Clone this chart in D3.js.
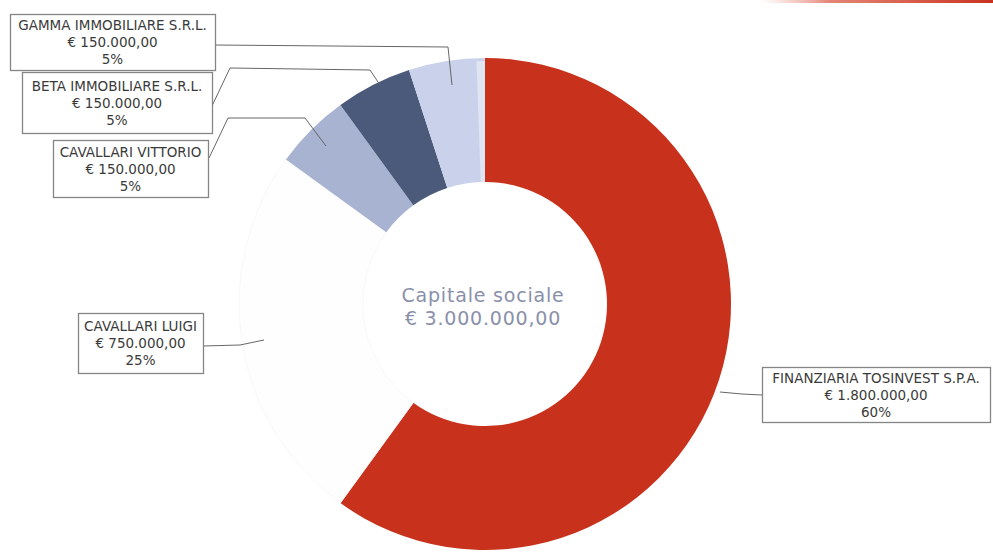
<!DOCTYPE html>
<html>
<head>
<meta charset="utf-8">
<script src="https://cdn.jsdelivr.net/npm/d3@7"></script>
<style>
  html, body { margin: 0; padding: 0; background: #ffffff; }
  svg { display: block; }
  text { font-family: "DejaVu Sans", sans-serif; }
</style>
</head>
<body>
<svg id="chart" width="993" height="552"></svg>
<script>
// ---- data ----
const shareholders = ["FINANZIARIA TOSINVEST S.P.A.", "CAVALLARI LUIGI", "CAVALLARI VITTORIO", "BETA IMMOBILIARE S.R.L.", "GAMMA IMMOBILIARE S.R.L."];
const amounts = [1800000, 750000, 150000, 150000, 150000];
const amountLabels = ["€ 1.800.000,00", "€ 750.000,00", "€ 150.000,00", "€ 150.000,00", "€ 150.000,00"];
const percentLabels = ["60%", "25%", "5%", "5%", "5%"];
const sliceColors = ["#c8321d", "#fefefe", "#a7b3d0", "#4b5a7a", "#c9d2ea"];
const centerLines = ["Capitale sociale", "€ 3.000.000,00"];

// ---- layout ----
const svg = d3.select("#chart");
const cx = 485, cy = 304, rOuter = 246, rInner = 122;

// top decorative red line
const defs = svg.append("defs");
const grad = defs.append("linearGradient").attr("id", "topline").attr("x1", "0").attr("x2", "1");
grad.append("stop").attr("offset", "0").attr("stop-color", "#e88a7a").attr("stop-opacity", 0);
grad.append("stop").attr("offset", "0.3").attr("stop-color", "#d9503c").attr("stop-opacity", 0.7);
grad.append("stop").attr("offset", "1").attr("stop-color", "#c8321d").attr("stop-opacity", 1);
svg.append("rect").attr("x", 760).attr("y", 0).attr("width", 233).attr("height", 3).attr("fill", "url(#topline)");

const pie = d3.pie().sort(null).value(d => d).startAngle(0).endAngle(2 * Math.PI);
const arcs = pie(amounts);
const arcGen = d3.arc().innerRadius(rInner).outerRadius(rOuter);

const g = svg.append("g").attr("transform", `translate(${cx},${cy})`);
g.selectAll("path.slice").data(arcs).enter().append("path")
  .attr("class", "slice")
  .attr("d", arcGen)
  .attr("fill", (d, i) => sliceColors[i])
  .attr("stroke", (d, i) => i === 1 ? "#f6f6f7" : "none")
  .attr("stroke-width", 0.8);

// thin lighter strip between gamma slice and red
g.append("path")
  .attr("d", d3.arc().innerRadius(rInner).outerRadius(rOuter - 3)
    .startAngle(2 * Math.PI - 0.035).endAngle(2 * Math.PI)())
  .attr("fill", "#dfe5f3");

// center text
const ct = svg.append("text").attr("text-anchor", "middle").attr("fill", "#8a90aa")
  .attr("font-size", 19).attr("letter-spacing", 0.8);
centerLines.forEach((t, i) => ct.append("tspan").attr("x", cx - 2).attr("y", cy - 2 + i * 23).text(t));

// label boxes: index -> box geometry
const boxes = [
  { i: 0, x: 762, y: 367, w: 228, h: 55 },
  { i: 1, x: 78, y: 313, w: 125, h: 60 },
  { i: 2, x: 53, y: 140, w: 155, h: 57 },
  { i: 3, x: 22, y: 72, w: 190, h: 61 },
  { i: 4, x: 10, y: 14, w: 205, h: 56 }
];
// leader lines (polyline points in page coords), attached to label index
const leaders = [
  { i: 0, pts: [[720, 392], [742, 394], [762, 395]] },
  { i: 1, pts: [[203, 346], [240, 345], [264, 340]] },
  { i: 2, pts: [[209, 158], [228, 118], [305, 118], [326, 146]] },
  { i: 3, pts: [[212, 106], [230, 68], [370, 70], [380, 85]] },
  { i: 4, pts: [[215, 45], [448, 47], [452, 85]] }
];

const line = d3.line();
svg.selectAll("path.leader").data(leaders).enter().append("path")
  .attr("class", "leader")
  .attr("d", d => line(d.pts))
  .attr("fill", "none")
  .attr("stroke", "#666")
  .attr("stroke-width", 1);

boxes.forEach(b => {
  svg.append("rect").attr("x", b.x + 0.5).attr("y", b.y + 0.5).attr("width", b.w).attr("height", b.h)
    .attr("fill", "#ffffff").attr("stroke", "#858585").attr("stroke-width", 1.3);
  const tx = b.x + b.w / 2;
  const lines = [shareholders[b.i], amountLabels[b.i], percentLabels[b.i]];
  const t = svg.append("text").attr("text-anchor", "middle").attr("fill", "#3a3a3a")
    .attr("font-size", 13.5);
  const lineH = 17;
  const y0 = b.y + b.h / 2 - lineH + 5;
  lines.forEach((s, k) => {
    const ts = t.append("tspan").attr("x", tx).attr("y", y0 + k * lineH).text(s);
  });
  // keep the text inside the box
  t.selectAll("tspan").each(function () {
    const w = this.getComputedTextLength();
    if (w > b.w - 4) d3.select(this).attr("textLength", b.w - 4).attr("lengthAdjust", "spacingAndGlyphs");
  });
});
</script>
</body>
</html>
